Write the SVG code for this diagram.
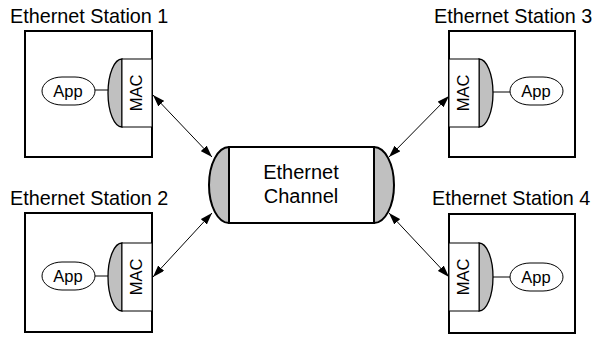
<svg xmlns="http://www.w3.org/2000/svg" width="597" height="342" viewBox="0 0 597 342">
  <style>
    .title { font-family: "Liberation Sans", Arial, sans-serif; font-size: 19.8px; fill: #000; }
    .lbl { font-family: "Liberation Sans", Arial, sans-serif; font-size: 16.5px; fill: #000; text-anchor: middle; }
    .chan { font-family: "Liberation Sans", Arial, sans-serif; font-size: 20px; fill: #000; text-anchor: middle; }
    .box { fill: #fff; stroke: #000; stroke-width: 2; }
    .mac { fill: #fff; stroke: #000; stroke-width: 1; }
    .cap { fill: #c0c0c0; stroke: #000; stroke-width: 1.3; }
    .app { fill: #fff; stroke: #000; stroke-width: 1; }
    .wire { stroke: #000; stroke-width: 1; fill: none; }
    .link { stroke: #000; stroke-width: 1; fill: none; marker-start: url(#head); marker-end: url(#head); }
  </style>
  <defs>
    <marker id="head" viewBox="0 0 12 8" refX="12" refY="4" markerWidth="12" markerHeight="8" markerUnits="userSpaceOnUse" orient="auto-start-reverse">
      <path d="M0,0 L12,4 L0,8 Z" fill="#000"/>
    </marker>
  </defs>

  <g id="station1">
    <text class="title" x="10" y="23">Ethernet Station 1</text>
    <rect class="box" x="25" y="31" width="127" height="126"/>
    <line class="wire" x1="95" y1="90" x2="108" y2="90"/>
    <rect class="app" x="42" y="77" width="53" height="28" rx="20" ry="14"/>
    <text class="lbl" x="68" y="97">App</text>
    <path class="cap" d="M122,59 A14,34 0 0 0 122,127 Z"/>
    <rect class="mac" x="122" y="59" width="30" height="68"/>
    <text class="lbl" transform="translate(142,93) rotate(-90)" x="0" y="0">MAC</text>
  </g>

  <g id="station2">
    <text class="title" x="10" y="205">Ethernet Station 2</text>
    <rect class="box" x="25" y="213" width="127" height="119"/>
    <line class="wire" x1="95" y1="276" x2="108" y2="276"/>
    <rect class="app" x="42" y="262" width="53" height="28" rx="20" ry="14"/>
    <text class="lbl" x="68" y="282">App</text>
    <path class="cap" d="M122,243 A14,34 0 0 0 122,311 Z"/>
    <rect class="mac" x="122" y="243" width="30" height="68"/>
    <text class="lbl" transform="translate(142,277) rotate(-90)" x="0" y="0">MAC</text>
  </g>

  <g id="station3">
    <text class="title" x="434" y="23">Ethernet Station 3</text>
    <rect class="box" x="449" y="31" width="126" height="126"/>
    <line class="wire" x1="493" y1="92" x2="510" y2="92"/>
    <rect class="app" x="510" y="77" width="53" height="28" rx="20" ry="14"/>
    <text class="lbl" x="536" y="97">App</text>
    <path class="cap" d="M479,59 A14,34 0 0 1 479,127 Z"/>
    <rect class="mac" x="449" y="59" width="30" height="68"/>
    <text class="lbl" transform="translate(469,93) rotate(-90)" x="0" y="0">MAC</text>
  </g>

  <g id="station4">
    <text class="title" x="432" y="205">Ethernet Station 4</text>
    <rect class="box" x="449" y="214" width="126" height="119"/>
    <line class="wire" x1="493" y1="277" x2="510" y2="277"/>
    <rect class="app" x="510" y="263" width="53" height="28" rx="20" ry="14"/>
    <text class="lbl" x="536" y="283">App</text>
    <path class="cap" d="M479,243 A14,34 0 0 1 479,311 Z"/>
    <rect class="mac" x="449" y="243" width="30" height="68"/>
    <text class="lbl" transform="translate(469,277) rotate(-90)" x="0" y="0">MAC</text>
  </g>

  <g id="channel">
    <path class="cap" d="M229,147 A20,38 0 0 0 229,223 Z" style="stroke-width:2"/>
    <path class="cap" d="M374,147 A20,38 0 0 1 374,223 Z" style="stroke-width:2"/>
    <rect class="box" x="229" y="147" width="145" height="76"/>
    <text class="chan" x="301" y="179">Ethernet</text>
    <text class="chan" x="301" y="203">Channel</text>
  </g>

  <g id="connectors">
    <line class="link" x1="153" y1="95" x2="212" y2="157"/>
    <line class="link" x1="153" y1="277" x2="212" y2="213"/>
    <line class="link" x1="449" y1="96" x2="389" y2="157"/>
    <line class="link" x1="449" y1="277" x2="389" y2="213"/>
  </g>
</svg>
